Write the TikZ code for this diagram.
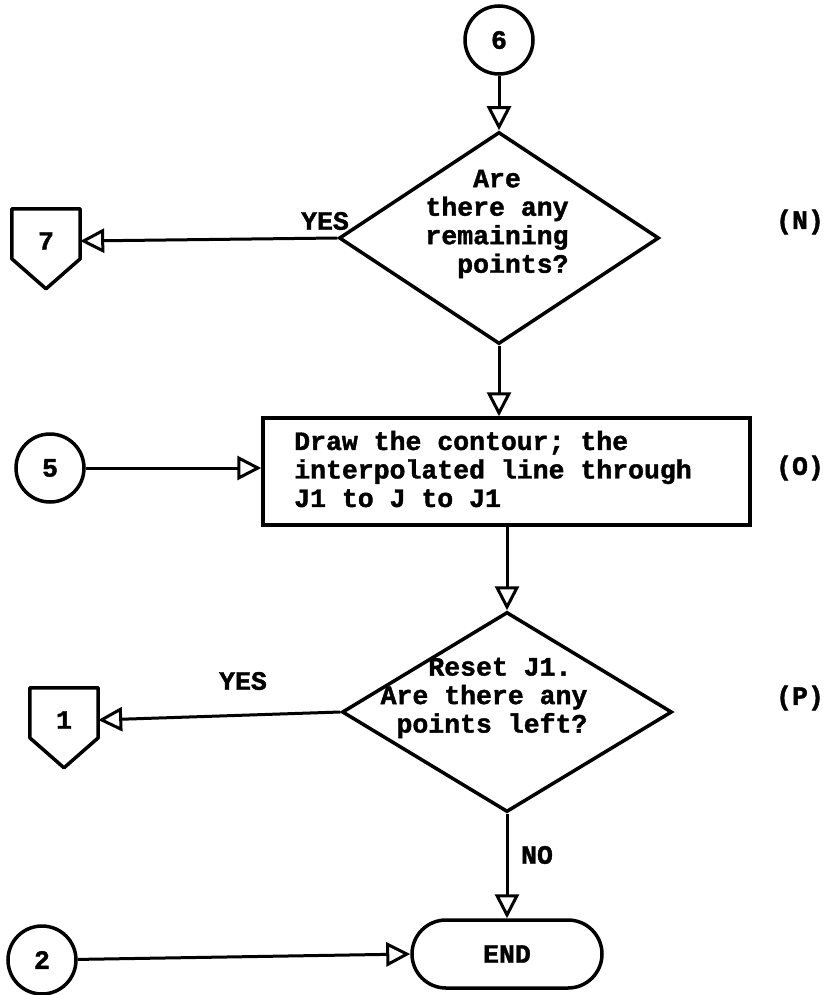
\documentclass[tikz,border=0pt]{standalone}
\usepackage{fontspec}
\setmonofont{Liberation Mono}[BoldFeatures={FakeBold=1.5}]
\usetikzlibrary{arrows.meta,shapes.geometric,calc}
\newcommand\offpageoutline[1]{%
  \draw[shapeline] (#1.north west) -- (#1.north east) -- ($(#1.north east)+(0,50)$)
    -- ($(#1.north)+(0,80)$) -- ($(#1.north west)+(0,50)$) -- cycle;}
\begin{document}
\begin{tikzpicture}[x=1pt,y=-1pt,
  every node/.style={font=\ttfamily\bfseries\fontsize{26.5}{28.5}\selectfont},
  shapeline/.style={line width=3.5pt, line join=round},
  conn/.style={circle, draw, line width=3.5pt, minimum size=68pt, inner sep=0pt},
  decision/.style={diamond, draw, line width=3.5pt, inner sep=0pt},
  procbox/.style={rectangle, draw, line width=3.5pt, inner sep=0pt},
  terminal/.style={rectangle, rounded corners=34pt, draw, line width=3.5pt, minimum width=190pt, minimum height=68pt, inner sep=0pt},
  offpage/.style={rectangle, minimum width=68pt, minimum height=64pt, inner sep=0pt},
  txt/.style={align=left, inner sep=0pt},
  lbl/.style={inner sep=0pt},
  flow/.style={line width=3pt, -{Triangle[open,length=24pt,width=24pt,line width=3pt]}},
]
\useasboundingbox (0,0) rectangle (835,995);

% top connector and decision N
\node[conn] (c6) at (499,40) {6};
\node[decision, minimum width=320pt, minimum height=212pt] (dN) at (499,238) {};
\node[txt] (tN) at (497,224) {\hphantom{XXX}Are\\there any\\remaining\\\hphantom{XX}points?};
\node[offpage] (p7) at (46,241) {7};
\offpageoutline{p7}
\node[lbl] (yesN) at (325,221) {YES};
\node[lbl] (lN) at (800,222) {(N)};

% process box O
\node[procbox, minimum width=487pt, minimum height=107pt] (bO) at (506.5,471.5) {};
\node[txt] (tO) at (493,469) {Draw the contour; the\\interpolated line through\\J1 to J to J1};
\node[conn] (c5) at (50,468) {5};
\node[lbl] (lO) at (800,468) {(O)};

% decision P
\node[decision, minimum width=330pt, minimum height=200pt] (dP) at (507,712) {};
\node[txt] (tP) at (484,698) {\hphantom{XXX}Reset J1.\\Are there any\\\hphantom{X}points left?};
\node[offpage] (p1) at (64,720) {1};
\offpageoutline{p1}
\node[lbl] (yesP) at (243,681) {YES};
\node[lbl] (lP) at (800,698) {(P)};
\node[lbl] (noP) at (537,855) {NO};

% end
\node[terminal] (endn) at (507,954) {END};
\node[conn] (c2) at (42,960) {2};

% connectors
\draw[flow] (c6) -- (dN.north);
\draw[flow] (dN.west) -- (p7.east);
\draw[flow] (dN.south) -- (dN.south |- bO.north);
\draw[flow] (c5.east) -- (c5.east -| bO.west);
\draw[flow] (bO.south -| dP.north) -- (dP.north);
\draw[flow] (dP.west) -- (p1.east);
\draw[flow] (dP.south) -- (endn.north);
\draw[flow] (c2) -- (endn.west);
\end{tikzpicture}
\end{document}
